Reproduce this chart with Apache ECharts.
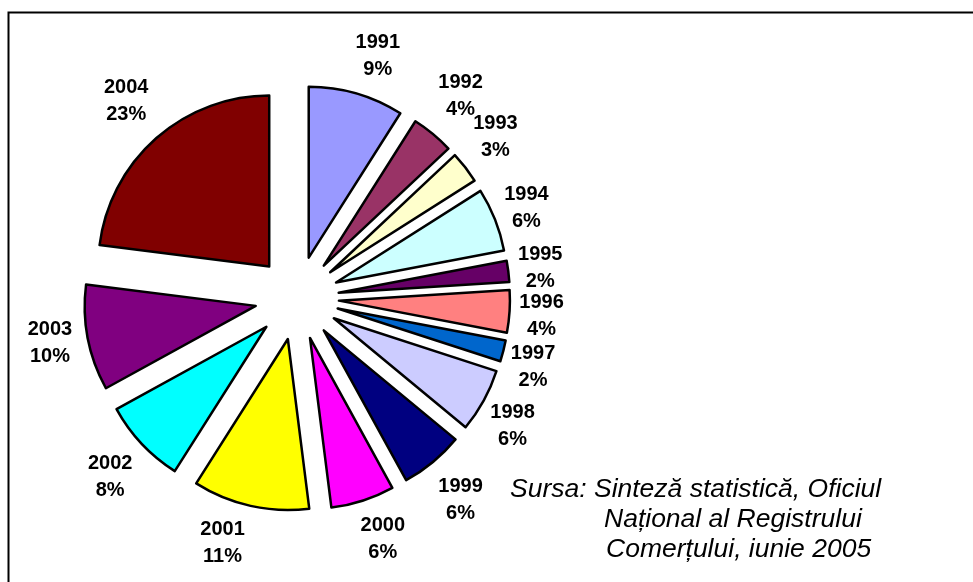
<!DOCTYPE html>
<html><head><meta charset="utf-8">
<script src="https://cdn.jsdelivr.net/npm/echarts@6/dist/echarts.min.js"></script>
<style>html,body{margin:0;padding:0;background:#fff}#c{width:973px;height:582px}</style>
</head><body><div id="c"></div>
<script>
const years = ['1991','1992','1993','1994','1995','1996','1997','1998','1999','2000','2001','2002','2003','2004'];
const shares = [9, 4, 3, 6, 2, 4, 2, 6, 6, 6, 11, 8, 10, 23];
const sliceColors = ['#9999FF','#993366','#FFFFCC','#CCFFFF','#660066','#FF8080','#0066CC','#CCCCFF','#000080','#FF00FF','#FFFF00','#00FFFF','#800080','#800000'];
const sourceLines = ['Sursa: Sinteză statistică, Oficiul', 'Național al Registrului', 'Comerțului, iunie 2005'];
// small manual nudges of the data labels (as placed in the original chart)
const labelNudgeX = [6, -1, 0, 0, 0, 0, -2, -2, -1, 3, -16, -2, -6, -1];
const labelNudgeY = [1, -1, 5, 14, 5, 0, -1, -8, 1, 0, -2, -3, -8, 0];

const CX = 297, CY = 298, R = 171, OFFSET = 42;
const total = shares.reduce((a, b) => a + b, 0);
const midAngles = [];
let acc = 0;
shares.forEach(v => { midAngles.push((acc + v / 2) / total * 2 * Math.PI); acc += v; });

const chart = echarts.init(document.getElementById('c'), null, {renderer: 'canvas'});
const FONT = 'Arial, "Liberation Sans", sans-serif';
const tokenStyle = {width: 64, align: 'center', fontFamily: FONT, fontWeight: 'bold', fontSize: 20, lineHeight: 27, color: '#000'};
chart.setOption({
  animation: false,
  backgroundColor: '#fff',
  graphic: [
    {type: 'rect', shape: {x: 8.5, y: 12.5, width: 1100, height: 700}, style: {fill: 'none', stroke: '#000', lineWidth: 2}, silent: true},
    {type: 'text', style: {text: sourceLines[0], x: 510, y: 490, font: 'italic 26.5px ' + FONT, fill: '#000', verticalAlign: 'middle'}},
    {type: 'text', style: {text: sourceLines[1], x: 604, y: 520, font: 'italic 26.5px ' + FONT, fill: '#000', verticalAlign: 'middle'}},
    {type: 'text', style: {text: sourceLines[2], x: 606, y: 550, font: 'italic 26.5px ' + FONT, fill: '#000', verticalAlign: 'middle'}}
  ],
  series: [{
    type: 'pie',
    center: [CX, CY],
    radius: [0, R],
    startAngle: 90,
    clockwise: true,
    avoidLabelOverlap: false,
    selectedMode: 'multiple',
    selectedOffset: OFFSET,
    data: years.map((y, i) => ({name: y, value: shares[i], selected: true, itemStyle: {color: sliceColors[i]}})),
    itemStyle: {borderColor: '#000', borderWidth: 2.5},
    label: {
      show: true, position: 'outside',
      formatter: p => '{t|' + p.name + '}\n{t|' + Math.round(p.percent) + '%}',
      fontFamily: FONT, fontWeight: 'bold', fontSize: 20, lineHeight: 27, color: '#000',
      rich: {t: tokenStyle}
    },
    labelLine: {show: false},
    labelLayout: function (p) {
      const i = p.dataIndex;
      const a = midAngles[i];
      const s = Math.sin(a), c = Math.cos(a);
      const D = 222, hw = 23, hh = 30;
      const cl = v => Math.max(-1, Math.min(1, v));
      const tx = CX + D * s + hw * cl(2 * s) + labelNudgeX[i] - OFFSET * s;
      const ty = CY - D * c - hh * cl(2 * c) + labelNudgeY[i] + OFFSET * c;
      const r = p.labelRect;
      return {dx: tx - (r.x + r.width / 2), dy: ty - (r.y + r.height / 2)};
    },
    emphasis: {disabled: true}
  }]
});
</script></body></html>
